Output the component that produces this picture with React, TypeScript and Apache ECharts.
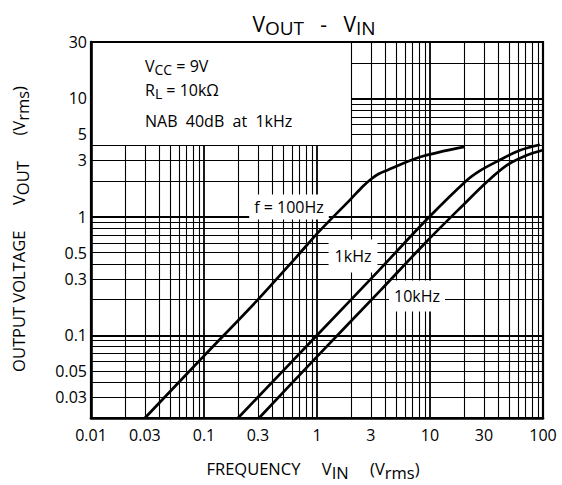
import React, { useEffect, useRef } from 'react';
import * as echarts from 'echarts';

// Tick labels
const xTickLabels = [0.01, 0.03, 0.1, 0.3, 1, 3, 10, 30, 100];
const yTickLabels = [0.03, 0.05, 0.1, 0.3, 0.5, 1, 3, 5, 10, 30];

// Log paper grid
const decades = [0.01, 0.1, 1, 10];
const multipliers = [1, 2, 3, 4, 5, 6, 7, 8, 9];

// Curves: [Vin (Vrms), Vout (Vrms)]
const curve100Hz = [
  [0.03, 0.02], [0.1, 0.067], [0.3, 0.2], [0.66, 0.46], [1.06, 0.765],
  [2.0, 1.42], [2.5, 1.78], [3.0, 2.08], [3.5, 2.3], [4.14, 2.47],
  [8.16, 3.2], [20, 3.9],
];
const curve1kHz = [
  [0.2, 0.02], [1, 0.1], [3.5, 0.35], [9.35, 0.95], [21.1, 2.03],
  [28, 2.47], [38.9, 2.93], [62.6, 3.65], [94, 4.07],
];
const curve10kHz = [
  [0.307, 0.02], [1, 0.066], [3.61, 0.237], [9.35, 0.62], [20, 1.28],
  [31.8, 1.97], [47.7, 2.72], [71.8, 3.31], [99, 3.65],
];

const curveLabels = ['f = 100Hz', '1kHz', '10kHz'];
const conditions = ['{n|V}{s|CC}{n| = 9V}', '{n|R}{s|L}{n| = 10kΩ}', '{n|NAB  40dB  at  1kHz}'];

const FONT = '"Open Sans", "DejaVu Sans", sans-serif';

const rp = (v: number) => Number(v.toPrecision(6));
const fmt = (v: any) => String(rp(Number(v)));

function buildGrid() {
  const gx: number[] = [];
  const gy: number[] = [];
  decades.forEach((d) =>
    multipliers.forEach((m) => {
      const v = rp(m * d);
      if (v > 0.01 && v < 100) gx.push(v);
      if (v > 0.02 && v < 30) gy.push(v);
    })
  );
  const segs: any[] = [];
  gx.forEach((x) => {
    const major = decades.includes(x);
    segs.push({
      coords: x < 2 ? [[x, 0.02], [x, 4]] : [[x, 0.02], [x, 30]],
      lineStyle: { width: major ? 1.8 : 1.1, color: '#000' },
    });
  });
  gy.forEach((y) => {
    const major = decades.includes(y);
    segs.push({
      coords: y > 4 ? [[2, y], [100, y]] : [[0.01, y], [100, y]],
      lineStyle: { width: major ? 1.8 : 1.1, color: '#000' },
    });
  });
  return segs;
}

const subRich = (n: number, s: number, drop: number) => ({
  n: { fontSize: n, fontFamily: FONT, fill: '#000', color: '#000', verticalAlign: 'bottom', padding: [0, 0, drop, 0] },
  s: { fontSize: s, fontFamily: FONT, fill: '#000', color: '#000', verticalAlign: 'bottom' },
});

export default function App() {
  const ref = useRef<HTMLDivElement>(null);
  useEffect(() => {
    if (!ref.current) return;
    const chart = echarts.init(ref.current, undefined, { renderer: 'svg' });
    const lineSeries = (name: string, data: number[][]) => ({
      name,
      type: 'line',
      data,
      showSymbol: false,
      smooth: 0.3,
      lineStyle: { color: '#000', width: 2.7 },
      z: 20,
      silent: true,
    });
    const labelText = (text: string, x: number, y: number, pad: number[]) => ({
      type: 'text',
      x,
      y,
      z: 10,
      style: {
        text,
        font: `16px ${FONT}`,
        fill: '#000',
        align: 'center',
        verticalAlign: 'middle',
        backgroundColor: '#fff',
        padding: pad,
      },
    });
    const option: any = {
      animation: false,
      grid: { left: 91, right: 19, top: 42, bottom: 67, show: true, borderColor: '#000', borderWidth: 2.2, backgroundColor: 'transparent' },
      xAxis: {
        type: 'log',
        logBase: 10,
        min: 0.01,
        max: 100,
        axisLine: { show: true, onZero: false, lineStyle: { color: '#000', width: 2.6 } },
        axisTick: { show: false },
        splitLine: { show: false },
        axisLabel: { customValues: xTickLabels, formatter: fmt, color: '#000', fontSize: 16, fontFamily: FONT, margin: 9 },
      },
      yAxis: {
        type: 'log',
        logBase: 10,
        min: 0.02,
        max: 30,
        axisLine: { show: true, onZero: false, lineStyle: { color: '#000', width: 2.6 } },
        axisTick: { show: false },
        splitLine: { show: false },
        axisLabel: { customValues: yTickLabels, formatter: fmt, color: '#000', fontSize: 16, fontFamily: FONT, margin: 4 },
      },
      series: [
        {
          type: 'lines',
          coordinateSystem: 'cartesian2d',
          data: buildGrid(),
          silent: true,
          z: 1,
          lineStyle: { color: '#000', width: 1, opacity: 1 },
        },
        lineSeries(curveLabels[0], curve100Hz),
        lineSeries(curveLabels[1], curve1kHz),
        lineSeries(curveLabels[2], curve10kHz),
      ],
      graphic: [
        {
          type: 'text', x: 314, y: 25, z: 10,
          style: {
            text: '{n|V}{s|OUT}{n|   -   V}{s|IN}',
            rich: subRich(21, 19, 3),
            align: 'center', verticalAlign: 'middle',
          },
        },
        {
          type: 'text', x: 145, y: 67, z: 10,
          style: { text: conditions[0], rich: subRich(16, 14, 3), align: 'left', verticalAlign: 'middle' },
        },
        {
          type: 'text', x: 145, y: 91, z: 10,
          style: { text: conditions[1], rich: subRich(16, 14, 3), align: 'left', verticalAlign: 'middle' },
        },
        {
          type: 'text', x: 145, y: 121, z: 10,
          style: { text: conditions[2], rich: subRich(16, 14, 0), align: 'left', verticalAlign: 'middle' },
        },
        labelText(curveLabels[0], 289, 207, [4, 5, 5, 5]),
        labelText(curveLabels[1], 353, 256, [8, 6, 9, 6]),
        labelText(curveLabels[2], 417, 296, [7, 5, 8, 5]),
        {
          type: 'text', x: 313, y: 470, z: 10,
          style: {
            text: '{n|FREQUENCY     V}{s|IN}{n|     (V}{s|rms}{n|)}',
            rich: subRich(16.5, 16.5, 4),
            align: 'center', verticalAlign: 'middle',
          },
        },
        {
          type: 'text', x: 20, y: 229, z: 10, rotation: Math.PI / 2,
          style: {
            text: '{n|OUTPUT VOLTAGE      V}{s|OUT}{n|      (V}{s|rms}{n|)}',
            rich: subRich(16.5, 16.5, 4),
            align: 'center', verticalAlign: 'middle',
          },
        },
      ],
    };
    chart.setOption(option);
    return () => chart.dispose();
  }, []);
  return (
    <div
      ref={ref}
      style={{ position: 'fixed', left: 0, top: 0, width: 562, height: 485, background: '#fff' }}
    />
  );
}
